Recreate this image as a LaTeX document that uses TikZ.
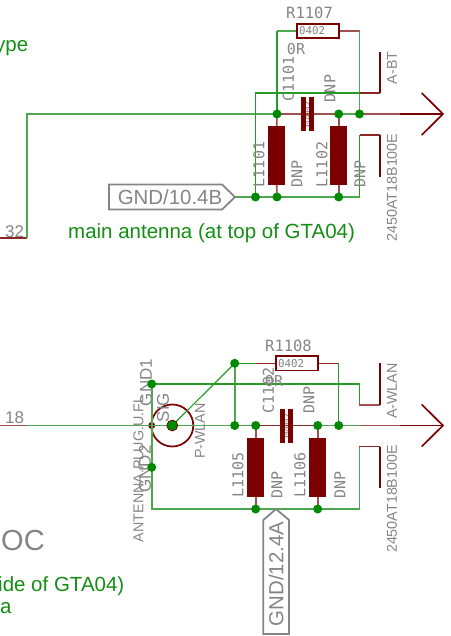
\documentclass[tikz,border=0pt]{standalone}
\usepackage{fontspec}
\setmainfont{Liberation Sans}
\newfontfamily\monof{DejaVu Sans Mono}
\definecolor{gnet}{HTML}{008A00}
\definecolor{gsoft}{HTML}{4FA84F}
\definecolor{gtxt}{HTML}{128F12}
\definecolor{brn}{HTML}{7B0000}
\definecolor{bsoft}{HTML}{A44F4F}
\definecolor{lab}{HTML}{858585}
\newcommand{\sz}[1]{\fontsize{#1}{#1}\selectfont}
\tikzset{
 x=1pt,y=-1pt,
 gw/.style={draw=gnet!85,line width=1.2pt},
 gs/.style={draw=gsoft,line width=1.6pt},
 bw/.style={draw=brn!85,line width=1.2pt},
 bs/.style={draw=bsoft,line width=1.6pt},
 bv/.style={draw=brn,line width=1.3pt},
 bt/.style={draw=brn,line width=1.7pt},
 jn/.style={circle,fill=gnet,inner sep=0pt,minimum size=9pt},
 res/.style={draw=brn,line width=1.6pt,fill=white,inner sep=0pt,minimum width=42pt,minimum height=14.5pt},
 ind/.style={fill=brn,inner sep=0pt,minimum width=17.5pt,minimum height=59pt},
 plate/.style={fill=brn,inner sep=0pt,minimum width=5pt,minimum height=34pt},
 mono/.style={text=lab,inner sep=0pt,font=\monof\sz{15}},
 monor/.style={mono,rotate=90},
 small/.style={text=lab,inner sep=0pt,font=\monof\sz{10.8}},
 sans/.style={text=lab,inner sep=0pt,font=\sz{14.3}},
 sansr/.style={sans,rotate=90},
 big/.style={text=lab,inner sep=0pt,font=\sz{17}},
 bigr/.style={big,rotate=90},
 note/.style={text=gtxt,inner sep=0pt,font=\sz{20.5},anchor=base west},
 tag/.style={text=lab,inner sep=0pt,font=\sz{20.4}},
 tagbox/.style={draw=lab,line width=1.8pt,line join=miter},
}
\begin{document}
\begin{tikzpicture}
\useasboundingbox (0,0) rectangle (450,636);
% ---------- top circuit coordinates
\coordinate (a0) at (0,238);
\coordinate (a1) at (27,238);
\coordinate (a2) at (27,114);
\coordinate (aT) at (277,31);
\coordinate (aU) at (359.5,31);
\coordinate (aE) at (400,114);
\coordinate (aTip) at (443,114);
\coordinate (aA1) at (421.7,93);
\coordinate (aA2) at (421.7,135);
\coordinate (aG) at (235,197);
\coordinate (aBR) at (359.5,197);
\coordinate (aBU) at (359.5,135);
\coordinate (aBV) at (380,135);
\coordinate (aBW) at (380,177);
\coordinate (aUL) at (255.5,93);
\coordinate (aUR) at (360,93);
\coordinate (aUS) at (380,93);
\coordinate (aUE) at (380,52);
% shapes
\node[res] (r1107) at (318,31) {};
\node[ind] (l1101) at (276.7,155.5) {};
\node[ind] (l1102) at (338.7,155.5) {};
% ---------- junctions as coordinates first
\coordinate (ja1) at (277,114);
\coordinate (ja2) at (338.7,114);
\coordinate (ja3) at (359.5,114);
\coordinate (ja4) at (255.5,197);
\coordinate (ja5) at (277,197);
\coordinate (ja6) at (338.7,197);
% wires top
\draw[bw] (a0) -- (a1);
\draw[gs] (a1) -- (a2) -- (ja1);
\draw[gw] (ja1) -- (aT);
\draw[gs] (aT) -- (r1107.west);
\draw[bs] (r1107.east) -- (aU);
\draw[gs] (aU) -- (ja3);
\draw[bs] (ja1) -- (ja2);
\draw[gs] (ja2) -- (ja3);
\draw[bs] (ja3) -- (aE);
\draw[bt] (aE) -- (aTip);
\draw[bt] (aA1) -- (aTip) -- (aA2);
\draw[bs] (ja1) -- (l1101.north);
\draw[bs] (ja2) -- (l1102.north);
\draw[bs] (l1101.south) -- (ja5);
\draw[bs] (l1102.south) -- (ja6);
\draw[gs] (aG) -- (aBR);
\draw[gw] (aBR) -- (aBU);
\draw[bw] (aBU) -- (aBV);
\draw[bv] (aBV) -- (aBW);
\draw[gw] (ja4) -- (aUL) -- (aUR);
\draw[bw] (aUR) -- (aUS);
\draw[bv] (aUS) -- (aUE);
% capacitor top
\node[small,rotate=90] (c1101v) at (307.5,114) {0402};
\node[plate] (c1a) at (303.3,114) {};
\node[plate] (c1b) at (311.7,114) {};
% ---------- bottom circuit coordinates
\coordinate (b0) at (0,425.5);
\coordinate (b1) at (27,425.5);
\coordinate (jb1) at (172.3,425.5);
\coordinate (jb2) at (234.7,425.5);
\coordinate (jb3) at (255.7,425.5);
\coordinate (jb4) at (317.7,425.5);
\coordinate (jb5) at (338.7,425.5);
\coordinate (jb6) at (234.7,363.3);
\coordinate (jb7) at (151.7,384);
\coordinate (jb8) at (151.7,467.3);
\coordinate (jb9) at (255.7,509);
\coordinate (jb10) at (317.7,509);
\coordinate (bL) at (151.7,509);
\coordinate (bR) at (359.3,509);
\coordinate (bRU) at (359.3,446.7);
\coordinate (bRV) at (380,446.7);
\coordinate (bRW) at (380,488);
\coordinate (bUR) at (359.3,384);
\coordinate (bUD) at (359.3,405);
\coordinate (bUS) at (380,405);
\coordinate (bUE) at (380,362.7);
\coordinate (bM) at (359.3,425.5);
\coordinate (bE) at (400,425.5);
\coordinate (bTip) at (443,425.5);
\coordinate (bA1) at (421.7,404.5);
\coordinate (bA2) at (421.7,446.5);
\coordinate (bS) at (256,363.3);
\coordinate (bV) at (338.7,363.3);
\coordinate (tagtip) at (276,509);
\node[res] (r1108) at (297,363.3) {};
\node[ind] (l1105) at (255.7,467.2) {};
\node[ind] (l1106) at (317.7,467.2) {};
% wires bottom
\node[circle,draw=brn,line width=1.7pt,inner sep=0pt,minimum size=42pt] (ant) at (jb1) {};
\node[circle,fill=brn,inner sep=0pt,minimum size=7pt] (antp) at (151.7,425.5) {};
\draw[bs] (b0) -- (b1);
\draw[gs] (b1) -- (jb3);
\draw[bw] (jb3) -- (jb4);
\draw[gs] (jb4) -- (bM);
\draw[bs] (bM) -- (bE);
\draw[bt] (bE) -- (bTip);
\draw[bt] (bA1) -- (bTip) -- (bA2);
\draw[gw] (jb1) -- (jb6);
\draw[gs] (jb6) -- (jb2);
\draw[gw] (jb6) -- (bS);
\draw[bw] (bS) -- (r1108.west);
\draw[bw] (r1108.east) -- (bV);
\draw[gw] (bV) -- (jb5);
\draw[bs] (jb3) -- (l1105.north);
\draw[bs] (jb4) -- (l1106.north);
\draw[bs] (l1105.south) -- (jb9);
\draw[bs] (l1106.south) -- (jb10);
\draw[gw] (jb7) -- (bUR) -- (bUD);
\draw[bs] (bUD) -- (bUS);
\draw[bv] (bUS) -- (bUE);
\draw[gs] (jb7) -- (bL) -- (bR) -- (bRU);
\draw[bw] (bRU) -- (bRV);
\draw[bv] (bRV) -- (bRW);
\node[small,rotate=90] (c1102v) at (286.8,425.5) {0402};
\node[plate] (c2a) at (282.7,425.5) {};
\node[plate] (c2b) at (290.9,425.5) {};
% gray labels with outlines
\draw[tagbox] (109,184.5) -- (222,184.5) -- (aG) -- (222,209.5) -- (109,209.5) -- cycle;
\draw[tagbox] (tagtip) -- (289,520) -- (289,634) -- (263.3,634) -- (263.3,520) -- cycle;
\node[tag] (gnda) at (170,197) {GND/10.4B};
\node[tag,rotate=90] (gndb) at (276,574) {GND/12.4A};
% texts top
\node[mono,font=\monof\sz{15.5}] (t1) at (309.5,13) {R1107};
\node[small,anchor=west] (t2) at (299,31) {0402};
\node[mono] (t3) at (296,49) {0R};
\node[monor] (t4) at (288.5,79) {C1101};
\node[monor] (t5) at (330,88.5) {DNP};
\node[monor] (t6) at (259,164.5) {L1101};
\node[monor] (t7) at (297,174) {DNP};
\node[monor] (t8) at (322,164.5) {L1102};
\node[monor] (t9) at (360,174) {DNP};
\node[sansr] (t10) at (392,68) {A-BT};
\node[sansr] (t11) at (392,187.5) {2450AT18B100E};
\node[big,anchor=base west] (t12) at (5,237) {32};
\node[note] (t13) at (68,238.5) {main antenna (at top of GTA04)};
\node[note,anchor=base east] (t14) at (28.5,52) {ype};
% texts bottom
\node[mono,font=\monof\sz{15.5}] (u1) at (288.5,346) {R1108};
\node[small,anchor=west] (u2) at (278,363.3) {0402};
\node[mono] (u3) at (274,381) {0R};
\node[monor] (u4) at (268.5,390.5) {C1102};
\node[monor] (u5) at (309,400) {DNP};
\node[monor] (u6) at (238,475) {L1105};
\node[monor] (u7) at (277,485) {DNP};
\node[monor] (u8) at (300,475) {L1106};
\node[monor] (u9) at (340,485) {DNP};
\node[sansr] (u10) at (392,391) {A-WLAN};
\node[sansr] (u11) at (392,499) {2450AT18B100E};
\node[sansr] (u12) at (200,431) {P-WLAN};
\node[sansr] (u13) at (138.5,469) {ANTENNA.PLUG.U.FL};
\node[bigr] (u14) at (146,382.5) {GND1};
\node[bigr] (u15) at (145,469) {GND2};
\node[bigr] (u16) at (163,407.5) {SIG};
\node[big,anchor=base west] (u17) at (5,423) {18};
\node[text=lab,inner sep=0pt,font=\sz{29},anchor=base west] (u18) at (1,550) {OC};
\node[note,anchor=base east] (u19) at (124.5,591) {ide of GTA04)};
\node[note] (u20) at (0,613) {a};
% junctions on top
\foreach \j in {ja1,ja2,ja3,ja4,ja5,ja6,jb2,jb3,jb4,jb5,jb6,jb7,jb8,jb9,jb10}
  \node[jn] (n\j) at (\j) {};
\node[circle,fill=gnet,draw=brn,line width=0.7pt,inner sep=0pt,minimum size=11pt] (njb1) at (jb1) {};
\end{tikzpicture}
\end{document}
